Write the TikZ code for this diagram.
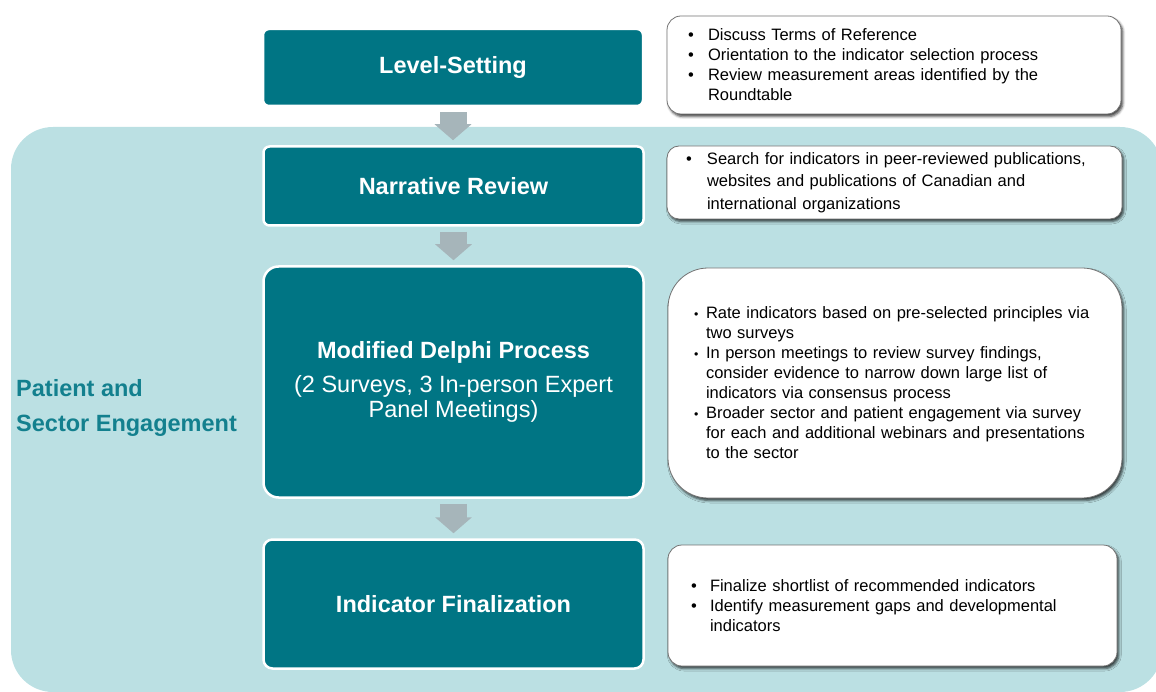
\documentclass[tikz,border=0pt]{standalone}
\usepackage{fontspec}
\setmainfont{Liberation Sans}
\usetikzlibrary{arrows.meta,shadows.blur}
\definecolor{bgteal}{HTML}{BBE0E3}
\definecolor{darkteal}{HTML}{007584}
\definecolor{labelteal}{HTML}{13808E}
\definecolor{arrowgray}{HTML}{A6B5BA}
\newlength\bhang
\newcommand\bu{\makebox[\bhang][l]{\textbullet}}
\newcommand\sbu{\makebox[\bhang][l]{\raisebox{0.1ex}{\scalebox{0.75}{\textbullet}}}}
\newcommand\ct{\hspace*{\bhang}}
\tikzset{
  stage/.style={fill=darkteal, draw=white, line width=2.5pt, text=white,
    align=center, font=\fontsize{23.5}{25.5}\selectfont, inner sep=0pt},
  note/.style={fill=white, draw=black!55, line width=0.8pt, align=left,
    inner xsep=0pt, inner ysep=0pt,
    font=\fontsize{16.5}{20}\selectfont,
    blur shadow={shadow xshift=1.8pt, shadow yshift=-2.5pt,
      shadow blur radius=2.5pt, shadow opacity=75}},
  barrow/.style={draw=arrowgray, line width=27pt,
    -{Triangle[length=16pt,width=36pt]}, shorten <=5pt, shorten >=5pt}
}
\begin{document}
\begin{tikzpicture}[x=1pt,y=-1pt]
\useasboundingbox (0,0) rectangle (1156,692);
% engagement band behind the lower stages
\fill[bgteal, rounded corners=42pt] (11,127) rectangle (1162,692);
\node[anchor=west, align=left, text=labelteal, inner sep=0pt,
  font=\bfseries\fontsize{23.5}{35}\selectfont] (lbl) at (16,408)
  {Patient and\\Sector Engagement};

% process stages
\node[stage, rounded corners=6pt, minimum width=380pt, minimum height=77pt]
  (ls) at (453,67.5) {\textbf{Level-Setting}};
\node[stage, rounded corners=6pt, minimum width=380pt, minimum height=79pt]
  (nr) at (453.5,186) {\textbf{Narrative Review}};
\node[stage, rounded corners=15pt, minimum width=380pt, minimum height=231pt]
  (md) at (453.5,382)
  {\textbf{Modified Delphi Process}\\[8pt](2 Surveys, 3 In-person Expert\\Panel Meetings)};
\node[stage, rounded corners=9pt, minimum width=380pt, minimum height=129pt]
  (fin) at (453.5,604) {\textbf{Indicator Finalization}};

% flow arrows
\draw[barrow] (ls.south) -- (ls.south |- nr.north);
\draw[barrow] (nr.south) -- (nr.south |- md.north);
\draw[barrow] (md.south) -- (md.south |- fin.north);

% activity notes
\node[note, rounded corners=14pt, minimum width=454pt, minimum height=98pt,
  text width=412pt] (n1) at (894,65)
  {\setlength\bhang{20pt}%
   \bu Discuss Terms of Reference\\
   \bu Orientation to the indicator selection process\\
   \bu Review measurement areas identified by the\\
   \ct Roundtable};
\node[note, rounded corners=12pt, minimum width=455pt, minimum height=73pt,
  text width=417pt] (n2) at (894.5,182.5)
  {\setlength\bhang{21pt}%
   \bu Search for indicators in peer-reviewed publications,\\[2.5pt]
   \ct websites and publications of Canadian and\\[2.5pt]
   \ct international organizations};
\node[note, rounded corners=40pt, minimum width=454pt, minimum height=230pt,
  text width=402pt] (n3) at (895,383)
  {\setlength\bhang{12pt}%
   \sbu Rate indicators based on pre-selected principles via\\
   \ct two surveys\\
   \sbu In person meetings to review survey findings,\\
   \ct consider evidence to narrow down large list of\\
   \ct indicators via consensus process\\
   \sbu Broader sector and patient engagement via survey\\
   \ct for each and additional webinars and presentations\\
   \ct to the sector};
\node[note, rounded corners=14pt, minimum width=449pt, minimum height=121pt,
  text width=403pt] (n4) at (892.5,605.5)
  {\setlength\bhang{19pt}%
   \bu Finalize shortlist of recommended indicators\\
   \bu Identify measurement gaps and developmental\\
   \ct indicators};
\end{tikzpicture}
\end{document}
